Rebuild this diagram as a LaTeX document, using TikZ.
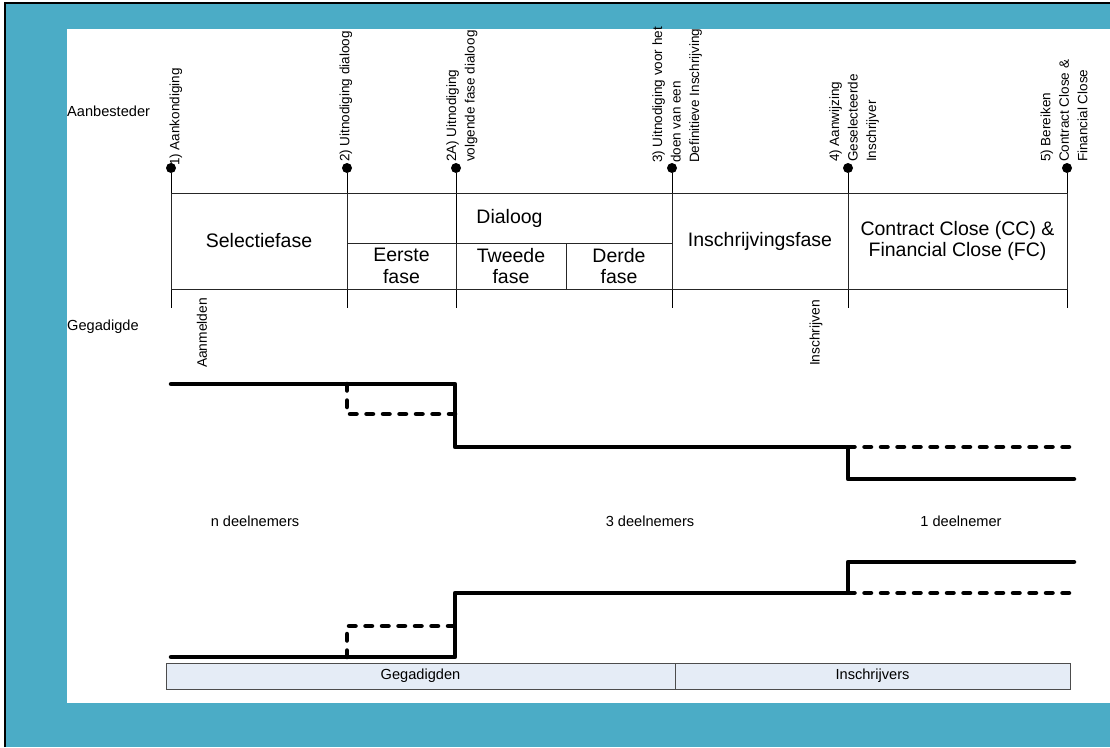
\documentclass[tikz,border=0pt]{standalone}
\usepackage{fontspec}
\setmainfont{Liberation Sans}
\usepackage{tikz}
\usetikzlibrary{positioning}
\definecolor{kader}{RGB}{75,172,198}
\definecolor{balk}{RGB}{229,236,246}
\tikzstyle{ev}=[circle,fill=black,inner sep=0pt,minimum size=10pt]
\tikzstyle{evt}=[rotate=90,anchor=west,inner sep=0pt,align=left,font=\fontsize{13.5}{18.5}\selectfont]
\tikzstyle{cel}=[draw=black!85,line width=0.8pt,align=center,inner sep=0pt,font=\fontsize{19.5}{21.5}\selectfont]
\tikzstyle{lbl}=[inner sep=0pt,font=\fontsize{14.6}{17}\selectfont]
\tikzstyle{rlbl}=[rotate=90,inner sep=0pt,font=\fontsize{13.8}{16}\selectfont]
\tikzstyle{bar}=[draw=black!70,line width=0.8pt,fill=balk,inner sep=0pt,minimum height=26pt,font=\fontsize{14.6}{17}\selectfont]
\tikzstyle{stap}=[line width=4.5pt,line cap=round,line join=round]
\tikzstyle{optie}=[stap,dash pattern=on 6.5pt off 10pt]

\begin{document}
\begin{tikzpicture}
[x=1pt,y=-1pt]
 \useasboundingbox (0,0) rectangle (1110,747);
 % kader
 \fill[white] (0,0) rectangle (1110,747);
 \fill[kader] (5,3) rectangle (1110,747);
 \fill[white] (67,29) rectangle (1110,703);
 \draw[line width=2.5pt] (5,747) -- (5,3) -- (1110,3);

 % mijlpalen
 \node[ev] (1e) at (171,168) {};
 \node[ev] (2e) at (347,168) {};
 \node[ev] (2Ae) at (456,168) {};
 \node[ev] (3e) at (672,168) {};
 \node[ev] (4e) at (848,168) {};
 \node[ev] (5e) at (1067,168) {};
 \coordinate (1b) at (171,308);
 \coordinate (2b) at (347,308);
 \coordinate (2Ab) at (456,308);
 \coordinate (3b) at (672,308);
 \coordinate (4b) at (848,308);
 \coordinate (5b) at (1067,308);
 \path[draw,line width=1pt]
   (1e) edge node {} (1b)
   (2e) edge node {} (2b)
   (2Ae) edge node {} (2Ab)
   (3e) edge node {} (3b)
   (4e) edge node {} (4b)
   (5e) edge node {} (5b);

 \node[evt] (1t) at (176,166) {1) Aankondiging};
 \node[evt] (2t) at (346,162) {2) Uitnodiging dialoog};
 \node[evt] (2At) at (462,162) {2A) Uitnodiging\\volgende fase dialoog};
 \node[evt] (3t) at (677,163) {3) Uitnodiging voor het\\doen van een\\Definitieve Inschrijving};
 \node[evt] (4t) at (854,162) {4) Aanwijzing\\Geselecteerde\\Inschrijver};
 \node[evt] (5t) at (1064,162) {5) Bereiken\\Contract Close \&\\Financial Close};

 % fasen
 \node[cel,minimum width=176pt,minimum height=96pt] (sel) at (259,241) {Selectiefase};
 \node[cel,minimum width=325pt,minimum height=50pt] (dia) at (509.5,218) {Dialoog};
 \node[cel,minimum width=109pt,minimum height=46pt] (f1) at (401.5,266) {Eerste\\fase};
 \node[cel,minimum width=110pt,minimum height=46pt] (f2) at (511,266) {Tweede\\fase};
 \node[cel,minimum width=106pt,minimum height=46pt] (f3) at (619,266) {Derde\\fase};
 \node[cel,minimum width=176pt,minimum height=96pt] (ins) at (760,241) {Inschrijvingsfase};
 \node[cel,minimum width=219pt,minimum height=96pt] (cc) at (957.5,241) {Contract Close (CC) \&\\Financial Close (FC)};

 \node[lbl,anchor=west] (abs) at (67,111) {Aanbesteder};
 \node[lbl,anchor=west] (geg) at (67,327) {Gegadigde};
 \node[rlbl] (aan) at (202,333) {Aanmelden};
 \node[rlbl] (inr) at (816,333) {Inschrijven};

 % aantal deelnemers
 \draw[stap] (171,384) -- (455,384) -- (455,447) -- (848,447) -- (848,479) -- (1074,479);
 \draw[optie] (347,384) -- (347,414) -- (455,414);
 \draw[optie] (848,447) -- (1076,447);
 \node[lbl] (nd) at (255,521) {n deelnemers};
 \node[lbl] (3d) at (650,521) {3 deelnemers};
 \node[lbl] (1d) at (961,521) {1 deelnemer};
 \draw[stap] (171,657) -- (455,657) -- (455,593) -- (848,593) -- (848,562) -- (1074,562);
 \draw[optie] (347,657) -- (347,626) -- (455,626);
 \draw[optie] (848,593) -- (1078,593);

 % rollen
 \node[bar,minimum width=509pt] (gd) at (420.5,676) {Gegadigden};
 \node[bar,minimum width=395pt] (is) at (872.5,676) {Inschrijvers};
\end{tikzpicture}
\end{document}
